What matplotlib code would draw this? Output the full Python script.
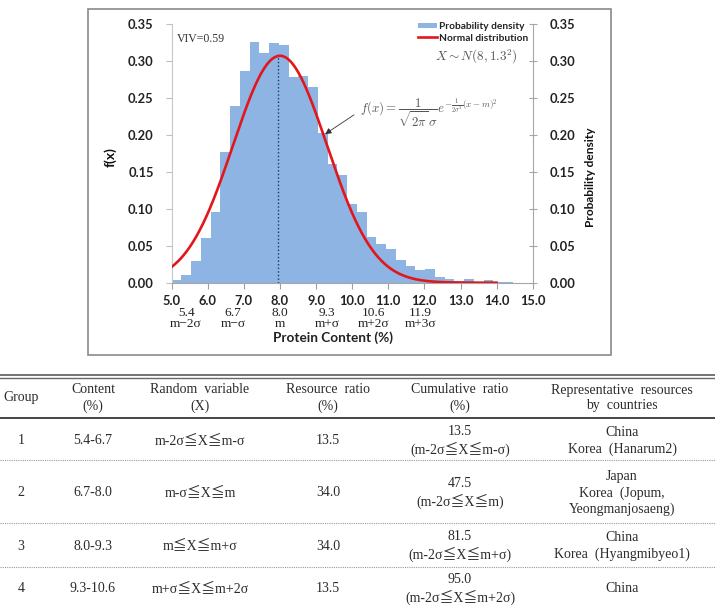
import numpy as np
import matplotlib
matplotlib.use('Agg')
import matplotlib.pyplot as plt
from matplotlib.lines import Line2D
from matplotlib.patches import Patch, Rectangle
import matplotlib.transforms as mtransforms

plt.rcParams['mathtext.fontset'] = 'cm'

# ---------------- data ----------------
bin_lefts = [5.00, 5.27, 5.54, 5.81, 6.08, 6.35, 6.62, 6.89, 7.16, 7.43,
             7.70, 7.97, 8.24, 8.51, 8.78, 9.05, 9.32, 9.59, 9.86, 10.13,
             10.40, 10.67, 10.94, 11.21, 11.48, 11.75, 12.02, 12.29, 12.56, 12.83,
             13.10, 13.37, 13.64, 13.91, 14.18]
bin_width = 0.27
density = [0.003, 0.010, 0.030, 0.060, 0.095, 0.177, 0.239, 0.286, 0.325, 0.310,
           0.324, 0.321, 0.278, 0.280, 0.265, 0.202, 0.160, 0.146, 0.107, 0.095,
           0.062, 0.052, 0.045, 0.031, 0.022, 0.017, 0.019, 0.008, 0.005, 0.002,
           0.0045, 0.001, 0.0036, 0.0015, 0.0008]
mean_m = 8.0
sigma = 1.3
data_mean = 7.94
curve_range = (5.0, 14.0)
x_ticks = [5.0, 6.0, 7.0, 8.0, 9.0, 10.0, 11.0, 12.0, 13.0, 14.0, 15.0]
y_ticks = [0.00, 0.05, 0.10, 0.15, 0.20, 0.25, 0.30, 0.35]
sigma_values = [5.4, 6.7, 8.0, 9.3, 10.6, 11.9]
sigma_names = ['m\u22122\u03c3', 'm\u2212\u03c3', 'm', 'm+\u03c3', 'm+2\u03c3', 'm+3\u03c3']

# table data
col_headers = ['Group', 'Content\n(%)', 'Random  variable\n(X)', 'Resource  ratio\n(%)',
               'Cumulative  ratio\n(%)', 'Representative  resources\nby  countries']
groups = ['1', '2', '3', '4']
contents = ['5.4-6.7', '6.7-8.0', '8.0-9.3', '9.3-10.6']
random_vars = ['m-2σ≦X≦m-σ', 'm-σ≦X≦m', 'm≦X≦m+σ', 'm+σ≦X≦m+2σ']
resource_ratio = [13.5, 34.0, 34.0, 13.5]
cumulative_ratio = [13.5, 47.5, 81.5, 95.0]
cumulative_range = ['(m-2σ≦X≦m-σ)', '(m-2σ≦X≦m)', '(m-2σ≦X≦m+σ)', '(m-2σ≦X≦m+2σ)']
representatives = ['China\nKorea  (Hanarum2)',
                   'Japan\nKorea  (Jopum,\nYeongmanjosaeng)',
                   'China\nKorea  (Hyangmibyeo1)',
                   'China']

# ---------------- figure ----------------
W, H = 715, 609
fig = plt.figure(figsize=(W / 100, H / 100), dpi=100)
fig.patch.set_facecolor('white')

def fx(px):
    return px / W

def fy(py):
    return 1 - py / H

# frame around chart
fig.patches.append(Rectangle((fx(88), fy(355)), fx(611) - fx(88), fy(9) - fy(355),
                             transform=fig.transFigure, fill=False,
                             edgecolor='#8a8a8a', lw=1.2))

ax_l, ax_r, ax_t, ax_b = 171.7, 532.7, 23.9, 282.7
ax = fig.add_axes([fx(ax_l), fy(ax_b), fx(ax_r) - fx(ax_l), fy(ax_t) - fy(ax_b)])

tick_font = dict(family='Lato', weight='bold', size=9.3)
bar_color = '#8DB4E2'
red = '#E3161C'

ax.bar(bin_lefts, density, width=bin_width, align='edge', color=bar_color,
       edgecolor='none', linewidth=0, label='Probability density', zorder=1)
xs = np.linspace(curve_range[0], curve_range[1], 500)
ys = np.exp(-0.5 * ((xs - mean_m) / sigma) ** 2) / (np.sqrt(2 * np.pi) * sigma)
ax.plot(xs, ys, color=red, lw=1.9, label='Normal distribution', zorder=3)
peak = 1 / (np.sqrt(2 * np.pi) * sigma)
ax.plot([data_mean, data_mean], [0, peak], color='#1F3864', lw=1.0,
        linestyle=(0, (1, 1.6)), zorder=2)

ax.set_xlim(5.0, 15.0)
ax.set_ylim(0, 0.35)
ax.set_xticks(x_ticks)
ax.set_xticklabels(['%.1f' % v for v in x_ticks], fontdict=tick_font, color='#222222')
ax.set_yticks(y_ticks)
ax.set_yticklabels(['%.2f' % v for v in y_ticks], fontdict=tick_font, color='#222222')
ax.tick_params(axis='x', direction='out', length=4, color='#A0A0A0', pad=5)
ax.tick_params(axis='y', direction='out', length=4, color='#BFBFBF', pad=9)
for s in ['top', 'right']:
    ax.spines[s].set_visible(False)
ax.spines['left'].set_color('#C8C8C8')
ax.spines['bottom'].set_color('#A6A6A6')

ax2 = ax.twinx()
ax2.set_ylim(0, 0.35)
ax2.set_yticks(y_ticks)
ax2.set_yticklabels(['%.2f' % v for v in y_ticks], fontdict=tick_font, color='#222222')
ax2.tick_params(axis='y', direction='inout', length=6, color='#A6A6A6', pad=9)
for s in ['top', 'left', 'bottom']:
    ax2.spines[s].set_visible(False)
ax2.spines['right'].set_color('#A6A6A6')

# axis labels
fig.text(fx(110), fy(157.5), 'f(x)', rotation=90, ha='center', va='center',
         family='Lato', weight='bold', size=10, color='#111111')
fig.text(fx(590), fy(177), 'Probability density', rotation=90, ha='center', va='center',
         family='Lato', weight='bold', size=8.6, color='#111111')
fig.text(fx(333), fy(338), 'Protein Content (%)', ha='center', va='center',
         family='Lato', weight='bold', size=9.8, color='#222222')

# sigma labels
trans = mtransforms.blended_transform_factory(ax.transData, fig.transFigure)
for v, nm in zip(sigma_values, sigma_names):
    fig.text(v, fy(313), '%.1f' % v, transform=trans, ha='center', va='center',
             family='Liberation Serif', size=9.6, color='#222222')
    fig.text(v, fy(324), nm, transform=trans, ha='center', va='center',
             family='Liberation Serif', size=9.6, color='#222222')

# annotations
ax.text(5.15, 0.330, 'VIV=0.59', ha='left', va='center', family='Liberation Serif',
        size=8.5, color='#333333')
ax.text(12.29, 0.305, r'$X \sim N(8,1.3^2)$', ha='left', va='center', size=9.5,
        color='#555555')
ax.text(10.22, 0.230, r'$f(x) = \dfrac{1}{\sqrt{2\pi}\,\sigma}e^{-\frac{1}{2\sigma^2}(x-m)^2}$',
        ha='left', va='center', size=9.3, color='#555555')
ax.annotate('', xy=(9.25, 0.201), xytext=(10.05, 0.227),
            arrowprops=dict(arrowstyle='-|>', color='#333333', lw=0.6,
                            mutation_scale=9, shrinkA=0, shrinkB=0))

handles = [Patch(facecolor=bar_color, edgecolor='none'),
           Line2D([0], [0], color=red, lw=1.9)]
leg = ax.legend(handles, ['Probability density', 'Normal distribution'],
                loc='upper left', bbox_to_anchor=(fx(418), fy(22)),
                bbox_transform=fig.transFigure, frameon=False,
                prop=dict(family='Lato', weight='bold', size=7.3),
                handlelength=1.9, handleheight=0.45, handletextpad=0.15,
                labelspacing=0.25, borderpad=0, borderaxespad=0)
for t in leg.get_texts():
    t.set_color('#222222')

# ---------------- table ----------------
def hline(py, lw=1.0, color='#555555', ls='-'):
    fig.add_artist(Line2D([0, 1], [fy(py), fy(py)], transform=fig.transFigure,
                          color=color, lw=lw, linestyle=ls))

hline(374.5, lw=1.3, color='#6a6a6a')
hline(377.5, lw=1.0, color='#6a6a6a')
hline(418, lw=1.4, color='#444444')
for py in [460, 523, 567]:
    hline(py, lw=0.8, color='#9a9a9a', ls=(0, (1, 1)))

col_x = [21, 93, 200, 328, 460, 622]
tfont = dict(family=['Liberation Serif', 'Noto Sans CJK KR'], size=10, color='#2b2b2b')

for cx, hdr in zip(col_x, col_headers):
    fig.text(fx(cx), fy(398), hdr, ha='center', va='center', multialignment='center',
             linespacing=1.25, **tfont)

row_centers = [441, 493, 546, 589]
for i, rc in enumerate(row_centers):
    fig.text(fx(col_x[0]), fy(rc), groups[i], ha='center', va='center', **tfont)
    fig.text(fx(col_x[1]), fy(rc), contents[i], ha='center', va='center', **tfont)
    fig.text(fx(col_x[2]), fy(rc), random_vars[i], ha='center', va='center', **tfont)
    fig.text(fx(col_x[3]), fy(rc), '%.1f' % resource_ratio[i], ha='center', va='center', **tfont)
    fig.text(fx(col_x[4]), fy(rc), '%.1f\n%s' % (cumulative_ratio[i], cumulative_range[i]),
             ha='center', va='center', multialignment='center', linespacing=1.25, **tfont)
    fig.text(fx(col_x[5]), fy(rc), representatives[i], ha='center', va='center',
             multialignment='center', linespacing=1.25, **tfont)

fig.savefig('out.png', dpi=100, facecolor='white')
